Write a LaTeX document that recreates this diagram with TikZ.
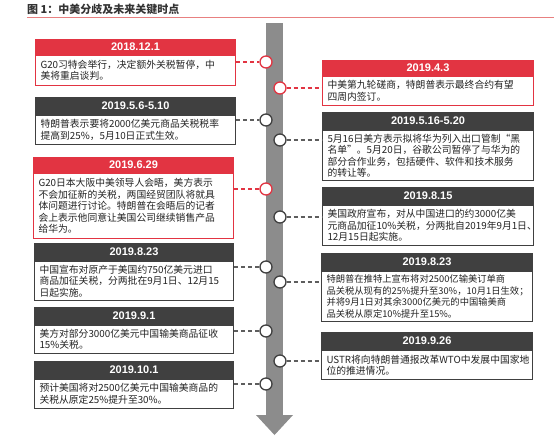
\documentclass[tikz,border=0pt]{standalone}
\usepackage{fontspec}
\setmainfont{Noto Sans CJK SC}
\newfontfamily\datefont{Liberation Sans}
\usetikzlibrary{positioning}
\definecolor{evred}{RGB}{226,52,66}
\definecolor{evdark}{RGB}{64,64,64}
\definecolor{bargray}{RGB}{140,140,140}
\definecolor{textgray}{RGB}{35,35,35}
\definecolor{titlegray}{RGB}{51,51,51}
\definecolor{rulered}{RGB}{232,128,128}
\tikzset{
  datehead/.style={
    anchor = north west,
    inner sep = 0pt,
    text = white,
    line width = 1pt,
    font = \datefont\bfseries\fontsize{11}{12}\selectfont
  },
  headred/.style={datehead, fill=evred, draw=evred, minimum height=15pt},
  headdark/.style={datehead, fill=evdark, draw=evdark, minimum height=17pt},
  evbody/.style={
    line width = 1pt,
    fill = white,
    align = left,
    inner xsep = 5pt,
    inner ysep = 2pt,
    text = textgray,
    font = \fontsize{9.8}{11.5}\selectfont
  },
  bodyred/.style={evbody, draw=evred},
  bodydark/.style={evbody, draw=evdark},
  leftbox/.style={minimum width=200pt, text width=190pt},
  rightbox/.style={minimum width=211pt, text width=201pt},
  evdot/.style={
    shape = circle,
    inner sep = 0pt,
    minimum size = 12pt,
    line width = 1.3pt,
    fill = white
  },
  dotred/.style={evdot, draw=evred},
  dotdark/.style={evdot, draw=evdark},
  linkred/.style={evred, line width=1.1pt, dash pattern=on 4pt off 3pt},
  linkdark/.style={evdark!85, line width=1.1pt, dash pattern=on 4pt off 3pt}
}
\begin{document}
\begin{tikzpicture}[x=1pt, y=-1pt]
    \useasboundingbox (0,0) rectangle (554,440);

    % title and rule
    \node[anchor=west, inner sep=0pt, text=titlegray, font=\bfseries\fontsize{11}{12}\selectfont] (title) at (27,9) {图 1：中美分歧及未来关键时点};
    \draw[rulered, line width=1pt] (27,17.5) -- (554,17.5);

    % time axis
    \fill[bargray] (266,23) rectangle (283,416);
    \fill[bargray] (256,415) -- (293,415) -- (274.5,435) -- cycle;

    % left column
    \node[headred, minimum width=200pt] (h1) at (35,39) {2018.12.1};
    \node[bodyred, leftbox, minimum height=30pt, below=0pt of h1] (b1) {G20习特会举行，决定额外关税暂停，中\\美将重启谈判。};

    \node[headdark, minimum width=200pt] (h3) at (35,97) {2019.5.6-5.10};
    \node[bodydark, leftbox, minimum height=29pt, below=0pt of h3] (b3) {特朗普表示要将2000亿美元商品关税税率\\提高到25\%，5月10日正式生效。};

    \node[headred, minimum width=200pt] (h5) at (33,157) {2019.6.29};
    \node[bodyred, leftbox, minimum height=65pt, below=0pt of h5] (b5) {G20日本大阪中美领导人会晤，美方表示\\不会加征新的关税，两国经贸团队将就具\\体问题进行讨论。特朗普在会晤后的记者\\会上表示他同意让美国公司继续销售产品\\给华为。};

    \node[headdark, minimum width=199pt] (h7) at (34,243) {2019.8.23};
    \node[bodydark, minimum width=199pt, text width=189pt, minimum height=39pt, below=0pt of h7] (b7) {中国宣布对原产于美国约750亿美元进口\\商品加征关税，分两批在9月1日、12月15\\日起实施。};

    \node[headdark, minimum width=199pt] (h9) at (34,307) {2019.9.1};
    \node[bodydark, minimum width=199pt, text width=189pt, minimum height=28pt, below=0pt of h9] (b9) {美方对部分3000亿美元中国输美商品征收\\15\%关税。};

    \node[headdark, minimum width=199pt] (h11) at (34,361) {2019.10.1};
    \node[bodydark, minimum width=199pt, text width=189pt, minimum height=29pt, below=0pt of h11] (b11) {预计美国将对2500亿美元中国输美商品的\\关税从原定25\%提升至30\%。};

    % right column
    \node[headred, minimum width=211pt] (h2) at (322,60) {2019.4.3};
    \node[bodyred, rightbox, minimum height=29pt, below=0pt of h2] (b2) {中美第九轮磋商，特朗普表示最终合约有望\\四周内签订。};

    \node[headdark, minimum width=211pt] (h4) at (322,112) {2019.5.16-5.20};
    \node[bodydark, rightbox, minimum height=50pt, below=0pt of h4] (b4) {5月16日美方表示拟将华为列入出口管制“黑\\名单”。5月20日，谷歌公司暂停了与华为的\\部分合作业务，包括硬件、软件和技术服务\\的转让等。};

    \node[headdark, minimum width=211pt] (h6) at (322,187) {2019.8.15};
    \node[bodydark, rightbox, minimum height=40pt, below=0pt of h6] (b6) {美国政府宣布，对从中国进口的约3000亿美\\元商品加征10\%关税，分两批自2019年9月1日、\\12月15日起实施。};

    \node[headdark, minimum width=211pt] (h8) at (321,253) {2019.8.23};
    \node[bodydark, rightbox, minimum height=50pt, below=0pt of h8, font=\fontsize{9.3}{11.5}\selectfont] (b8) {特朗普在推特上宣布将对2500亿输美订单商\\品关税从现有的25\%提升至30\%，10月1日生效；\\并将9月1日对其余3000亿美元的中国输美商\\品关税从原定10\%提升至15\%。};

    \node[headdark, minimum width=211pt] (h10) at (321,332) {2019.9.26};
    \node[bodydark, rightbox, minimum height=29pt, below=0pt of h10] (b10) {USTR将向特朗普通报改革WTO中发展中国家地\\位的推进情况。};

    % dots on the axis
    \node[dotred] (d1) at (266,62) {};
    \node[dotred] (d2) at (280,88) {};
    \node[dotdark] (d3) at (266,120) {};
    \node[dotdark] (d4) at (280,140) {};
    \node[dotred] (d5) at (266,189) {};
    \node[dotdark] (d6) at (280,217) {};
    \node[dotdark] (d7) at (266,267) {};
    \node[dotdark] (d8) at (280,282) {};
    \node[dotdark] (d9) at (266,331) {};
    \node[dotdark] (d10) at (280,361) {};
    \node[dotdark] (d11) at (266,384) {};

    % links
    \draw[linkred] (b1.east |- d1) -- (d1);
    \draw[linkred] (d2) -- (b2.west |- d2);
    \draw[linkdark] (b3.east |- d3) -- (d3);
    \draw[linkdark] (d4) -- (b4.west |- d4);
    \draw[linkred] (b5.east |- d5) -- (d5);
    \draw[linkdark] (d6) -- (b6.west |- d6);
    \draw[linkdark] (b7.east |- d7) -- (d7);
    \draw[linkdark] (d8) -- (b8.west |- d8);
    \draw[linkdark] (b9.east |- d9) -- (d9);
    \draw[linkdark] (d10) -- (b10.west |- d10);
    \draw[linkdark] (b11.east |- d11) -- (d11);
\end{tikzpicture}
\end{document}
